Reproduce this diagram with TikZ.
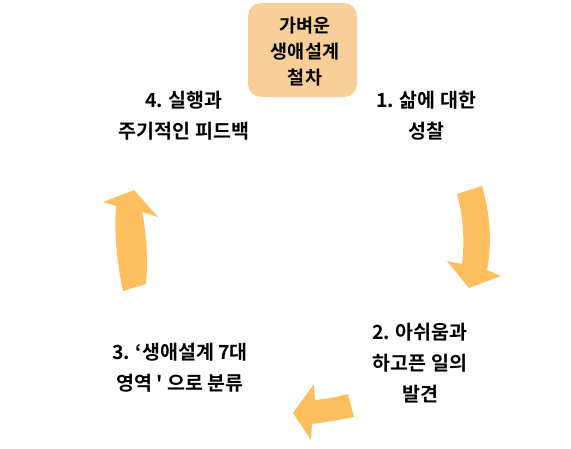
\documentclass[tikz,border=0pt]{standalone}
\usepackage{fontspec}
\newfontfamily\kr{Noto Sans CJK KR}[BoldFont={* Bold}]
\definecolor{boxfill}{HTML}{F8CF98}
\definecolor{arrowfill}{HTML}{FFBF5F}
\tikzset{
  lbl/.style={align=center, font=\kr\bfseries\fontsize{19.5}{31}\selectfont, inner sep=0pt},
  titlebox/.style={rounded corners=13pt, fill=boxfill, minimum width=109pt, minimum height=94pt, align=center, font=\kr\bfseries\fontsize{18.5}{26}\selectfont, inner sep=0pt},
  blockarrow/.style={fill=arrowfill, draw=none}
}
\begin{document}
\begin{tikzpicture}[x=1pt,y=-1pt]
\useasboundingbox (0,0) rectangle (571,448);
\node[titlebox] (title) at (302.5,50) {};
\node[align=center, font=\kr\bfseries\fontsize{18.5}{26}\selectfont, inner sep=0pt] (titletext) at (305,52) {가벼운\\생애설계\\철차};
\node[lbl] (s1) at (426,116) {1. 삶에 대한\\성찰};
\node[lbl] (s2) at (420,363) {2. 아쉬움과\\하고픈 일의\\발견};
\node[lbl] (s3) at (180,367.5) {3. ‘생애설계 7대\\영역 ' 으로 분류};
\node[lbl] (s4) at (184,116) {4. 실행과\\주기적인 피드백};
% right arrow (down)
\fill[blockarrow] (457,194) -- (482,186) .. controls (492,220) and (491,250) .. (487,270)
  -- (501,276) -- (469,288) -- (447,261) -- (462,264)
  .. controls (465,240) and (463,215) .. (457,194) -- cycle;
% bottom arrow (left)
\fill[blockarrow] (293,413) -- (314,384) -- (315,400)
  .. controls (326,399) and (337,397) .. (348,394) -- (354,417)
  .. controls (340,420) and (326,422) .. (312,424) -- (311,440) -- cycle;
% left arrow (up)
\fill[blockarrow] (134,190) -- (158,217) -- (142,212)
  .. controls (147,235) and (148,262) .. (146,284) -- (123,291)
  .. controls (117,262) and (114,235) .. (116,206) -- (103,202) -- cycle;
\end{tikzpicture}
\end{document}
